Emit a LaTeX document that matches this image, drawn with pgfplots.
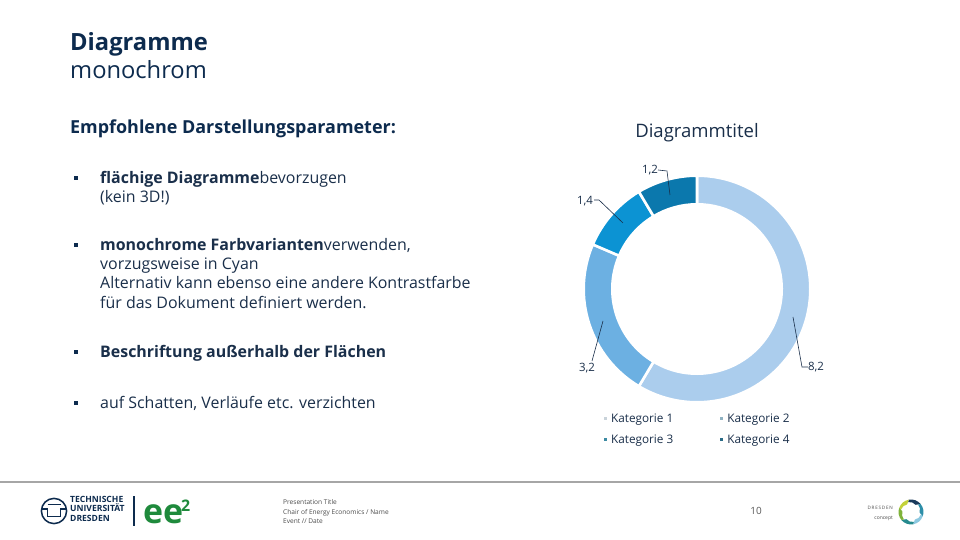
\documentclass[border=0pt]{standalone}
\usepackage{fontspec}
\setmainfont{Open Sans}
\usepackage{pgfplots}
\pgfplotsset{compat=1.18}
\usepackage{pgfplotstable}

\definecolor{tudblue}{HTML}{0D2B4E}
\definecolor{bodytext}{HTML}{1A2F4A}
\definecolor{footgrey}{HTML}{A6A6A6}
\definecolor{eegreen}{HTML}{1F8A3C}
% ring segments
\definecolor{seg0}{HTML}{ABCDED}
\definecolor{seg1}{HTML}{6CB0E2}
\definecolor{seg2}{HTML}{0C93D3}
\definecolor{seg3}{HTML}{0B78AD}
% legend swatches
\definecolor{leg0}{HTML}{C9D3DA}
\definecolor{leg1}{HTML}{8FB2C2}
\definecolor{leg2}{HTML}{3D8BA3}
\definecolor{leg3}{HTML}{2B6C87}

\pgfkeys{/pgf/number format/.cd, use comma, fixed, precision=1, assume math mode=true}

\pgfplotstableread{
cat value
1 8.2
2 3.2
3 1.4
4 1.2
}\donutdata

\newcommand\bodyfont{\fontsize{16}{19}\selectfont}

\begin{document}
\begin{tikzpicture}[x=1bp,y=1bp]
\useasboundingbox (0,0) rectangle (960,540);
\fill[white] (0,0) rectangle (960,540);

% --- sum and angles of the ring segments (clockwise from 12 o'clock)
\xdef\donutsum{0}
\pgfplotstableforeachcolumnelement{value}\of\donutdata\as\v{%
  \pgfmathparse{\donutsum+\v}\xdef\donutsum{\pgfmathresult}}
\xdef\angcur{90}
\pgfplotstableforeachcolumnelement{value}\of\donutdata\as\v{%
  \pgfmathparse{\angcur-\v/\donutsum*360}\let\angnext\pgfmathresult
  \expandafter\xdef\csname segA\pgfplotstablerow\endcsname{\angcur}%
  \expandafter\xdef\csname segB\pgfplotstablerow\endcsname{\angnext}%
  \expandafter\xdef\csname segV\pgfplotstablerow\endcsname{\v}%
  \xdef\angcur{\angnext}}

% --- headings
\node[anchor=base west, inner sep=0, text=tudblue, font=\fontsize{23.8}{26}\selectfont\bfseries] at (70,489) {Diagramme};
\node[anchor=base west, inner sep=0, text=tudblue, font=\fontsize{23.8}{26}\selectfont] at (70,461) {monochrom};
\node[anchor=base west, inner sep=0, text=tudblue, font=\fontsize{18}{20}\selectfont\bfseries] at (70,406) {Empfohlene Darstellungsparameter:};

% --- bullet list
\foreach \yb in {360, 293, 186, 135}{\fill[tudblue] (74,\yb) rectangle ++(4,4);}
\begin{scope}[every node/.style={anchor=base west, inner sep=0, text=bodytext, font=\bodyfont}]
\node at (100,356) {{\bfseries flächige Diagramme}bevorzugen};
\node at (100,337.5) {(kein 3D!)};
\node at (100,289.5) {{\bfseries monochrome Farbvarianten}verwenden,};
\node at (100,270.2) {vorzugsweise in Cyan};
\node at (100,251) {Alternativ kann ebenso eine andere Kontrastfarbe};
\node at (100,231.8) {für das Dokument definiert werden.};
\node at (100,182.8) {\bfseries Beschriftung außerhalb der Flächen};
\node at (100,131.8) {auf Schatten, Verläufe etc. verzichten};
\end{scope}

% --- footer
\draw[footgrey, line width=1.6] (0,58) -- (960,58);
\begin{scope}[tudblue, line width=1.5]
  \draw (54,29) circle (12.6);
  \draw (41.6,31) -- (47.5,31) -- (47.5,23.5) -- (60.5,23.5) -- (60.5,31) -- (66.4,31);
  \draw (47.5,35.5) -- (60.5,35.5);
\end{scope}
\begin{scope}[every node/.style={anchor=base west, inner sep=0, text=tudblue, font=\fontsize{8.6}{9}\selectfont\bfseries}]
\node at (70,37.5) {TECHNISCHE};
\node at (70,28) {UNIVERSITÄT};
\node at (70,18.5) {DRESDEN};
\end{scope}
\fill[tudblue] (133,14) rectangle (135.2,44);
\node[anchor=base west, inner sep=0, text=eegreen, font=\fontsize{34}{34}\selectfont\bfseries] at (143,16) {ee};
\node[anchor=base west, inner sep=0, text=eegreen, font=\fontsize{16}{16}\selectfont\bfseries] at (181,28) {2};
\begin{scope}[every node/.style={anchor=base west, inner sep=0, text=black!70, font=\fontsize{6.6}{7}\selectfont}]
\node at (283,35) {Presentation Title};
\node at (283,25.5) {Chair of Energy Economics / Name};
\node at (283,16) {Event // Date};
\end{scope}
\node[anchor=base, inner sep=0, text=black!65, font=\fontsize{10}{12}\selectfont] at (756,25) {10};
\node[anchor=base east, inner sep=0, text=black!70, font=\fontsize{4.6}{5}\selectfont] at (893,30) {D\,R\,E\,S\,D\,E\,N};
\node[anchor=base east, inner sep=0, text=black!70, font=\fontsize{5}{5}\selectfont] at (893,20.5) {concept};
\foreach \a/\c in {90/1B3A5C, 30/2D8EA8, -30/8CC8E0, -90/268A8E, -150/7FB33A, 150/C3D23A}{
  \definecolor{dc}{HTML}{\c}
  \fill[dc] (911,28) ++(\a+10:12.5) arc[start angle=\a+10, end angle=\a-50, radius=12.5]
     -- ++(\a-50+150:5) arc[start angle=\a-50, end angle=\a+10, radius=8] -- cycle;
}

% --- ring chart
\begin{axis}[
  at={(697,251)}, anchor=center,
  x=1bp, y=1bp, disabledatascaling,
  xmin=-130, xmax=130, ymin=-170, ymax=170,
  hide axis, clip=false,
  legend columns=2,
  legend image code/.code={\fill[#1, draw=none] (-1.5bp,-1.5bp) rectangle (1.5bp,1.5bp);},
  legend style={at={(0.142,0.137)}, anchor=north west, draw=none, fill=none,
    inner sep=0pt, row sep=9bp, font=\fontsize{11.8}{13}\selectfont, text=bodytext,
    nodes={inner sep=1bp},
    /tikz/every odd column/.append style={column sep=3bp},
    /tikz/every even column/.append style={column sep=46bp}},
]
\pgfplotsinvokeforeach{0,...,3}{%
  \fill[fill=seg#1, draw=white, line width=2.6bp]
    ([shift={(\csname segA#1\endcsname:113.3bp)}]axis cs:0,0)
    arc[start angle=\csname segA#1\endcsname, end angle=\csname segB#1\endcsname, radius=113.3bp]
    -- ([shift={(\csname segB#1\endcsname:84.7bp)}]axis cs:0,0)
    arc[start angle=\csname segB#1\endcsname, end angle=\csname segA#1\endcsname, radius=84.7bp]
    -- cycle;
}
\node[font=\fontsize{18.6}{22}\selectfont, text=bodytext] at (axis cs:0,156) {Diagrammtitel};
% value labels with leader lines
\begin{scope}[every node/.style={font=\fontsize{11.5}{13}\selectfont, text=bodytext, inner sep=0}]
\node at (axis cs:119,-78) {\pgfmathprintnumber{\csname segV0\endcsname}};
\node at (axis cs:-110,-79) {\pgfmathprintnumber{\csname segV1\endcsname}};
\node at (axis cs:-112,88) {\pgfmathprintnumber{\csname segV2\endcsname}};
\node at (axis cs:-47,119) {\pgfmathprintnumber{\csname segV3\endcsname}};
\end{scope}
\draw[bodytext, line width=0.6bp] (axis cs:111,-78) -- (axis cs:105,-78) -- (axis cs:96,-28);
\draw[bodytext, line width=0.6bp] (axis cs:-105,-72) -- (axis cs:-94,-32);
\draw[bodytext, line width=0.6bp] (axis cs:-103,89) -- (axis cs:-98,89) -- (axis cs:-74,66);
\draw[bodytext, line width=0.6bp] (axis cs:-39,119) -- (axis cs:-30,118) -- (axis cs:-27,94);
\addlegendimage{fill=leg0}
\addlegendentry{Kategorie 1}
\addlegendimage{fill=leg1}
\addlegendentry{Kategorie 2}
\addlegendimage{fill=leg2}
\addlegendentry{Kategorie 3}
\addlegendimage{fill=leg3}
\addlegendentry{Kategorie 4}
\end{axis}
\end{tikzpicture}
\end{document}
